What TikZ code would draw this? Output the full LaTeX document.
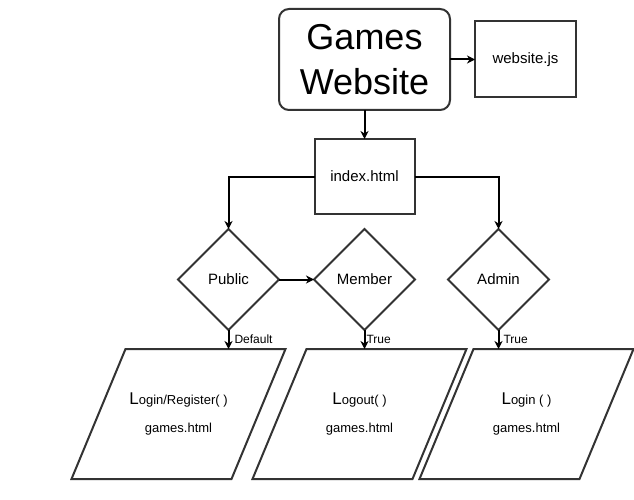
\documentclass[tikz,border=0pt]{standalone}
\usepackage{fontspec}
\setmainfont{Liberation Sans}
\usetikzlibrary{positioning,arrows.meta,shapes.geometric}
\newcommand{\bigL}{{\fontsize{17}{17}\selectfont L}}

\begin{document}
\begin{tikzpicture}[
every node/.style={outer sep=0pt},
box/.style={
rectangle,draw=black!80,line width=2pt,
align=center,
minimum width=101pt,
minimum height=76pt,
font=\fontsize{15}{18}\selectfont
},
decision/.style={
diamond,draw=black!80,line width=2pt,
aspect=1,inner sep=0pt,
minimum size=101pt,
font=\fontsize{15}{18}\selectfont
},
io/.style={
rectangle,
align=center,
minimum width=214pt,
minimum height=130pt,
font=\fontsize{13}{28}\selectfont
},
outline/.style={draw=black!80,line width=2pt,line join=miter},
arrow/.style={-{Stealth[length=8pt,width=8pt,inset=2.5pt]},line width=2pt},
lbl/.style={font=\fontsize{12}{14}\selectfont,inner sep=2pt}
]

\useasboundingbox (0,0) rectangle (634pt,-500pt);

% TOP
\node[box,rounded corners=10pt,minimum width=171pt,minimum height=101pt,
font=\fontsize{36}{45}\selectfont] (games) at (364.5pt,-59.5pt)
{Games\\Website};

\node[box,right=25pt of games] (webjs) {website.js};

\node[box,below=29pt of games,minimum width=100pt,minimum height=75pt] (index) {index.html};

% ROLES
\node[decision,below=15pt of index] (member) {Member};
\node[decision,left=35pt of member] (public) {Public};
\node[decision,right=33pt of member] (admin) {Admin};

% PAGES
\node[io,below=19pt of public,xshift=-50pt] (loginreg)
{\bigL ogin/Register( )\\games.html};

\node[io,below=19pt of member,xshift=-5pt] (logout)
{\bigL ogout( )\\games.html};

\node[io,below=19pt of admin,xshift=28pt] (login)
{\bigL ogin ( )\\games.html};

\foreach \p in {loginreg,logout,login}
\draw[outline] ([xshift=54pt]\p.north west) -- (\p.north east)
-- ([xshift=-54pt]\p.south east) -- (\p.south west) -- cycle;

% ARROWS
\draw[arrow] (games.east) -- (webjs.west);
\draw[arrow] (games.south) -- (index.north);
\draw[arrow] (index.west) -| (public.north);
\draw[arrow] (index.east) -| (admin.north);
\draw[arrow] (public.east) -- (member.west);
\draw[arrow] (public.south) -- (public.south |- loginreg.north)
node[lbl,midway,right,xshift=4pt] {Default};
\draw[arrow] (member.south) -- (member.south |- logout.north)
node[lbl,midway,right] {True};
\draw[arrow] (admin.south) -- (admin.south |- login.north)
node[lbl,midway,right,xshift=3pt] {True};

\end{tikzpicture}
\end{document}
